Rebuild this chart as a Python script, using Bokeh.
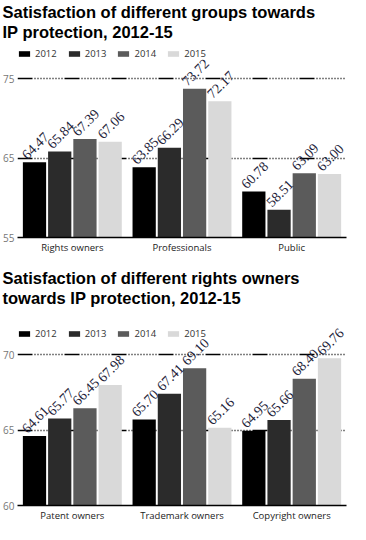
from bokeh.plotting import figure
from bokeh.models import (ColumnDataSource, FactorRange, Range1d, FixedTicker,
                          Legend, LegendItem, LabelSet, Title)
from bokeh.transform import dodge
from bokeh.layouts import column
from bokeh.embed import file_html
from bokeh.resources import INLINE

years = ["2012", "2013", "2014", "2015"]
colors = ["#000000", "#2b2b2b", "#5b5b5b", "#d9d9d9"]

title1 = ["Satisfaction of different groups towards", "IP protection, 2012-15"]
groups1 = ["Rights owners", "Professionals", "Public"]
v1_2012 = [64.47, 63.85, 60.78]
v1_2013 = [65.84, 66.29, 58.51]
v1_2014 = [67.39, 73.72, 63.09]
v1_2015 = [67.06, 72.17, 63.00]
ticks1 = [55, 65, 75]

title2 = ["Satisfaction of different rights owners", "towards IP protection, 2012-15"]
groups2 = ["Patent owners", "Trademark owners", "Copyright owners"]
v2_2012 = [64.61, 65.70, 64.95]
v2_2013 = [65.77, 67.41, 65.66]
v2_2014 = [66.45, 69.10, 68.40]
v2_2015 = [67.98, 65.16, 69.76]
ticks2 = [60, 65, 70]

offsets = [-0.345, -0.115, 0.115, 0.345]
BAR_W = 0.212
TITLE_FONT = "Liberation Sans"
BODY_FONT = "Open Sans"


def make_chart(titles, groups, series, ticks, yrange, height, legend_y):
    p = figure(x_range=FactorRange(*groups), y_range=Range1d(*yrange),
               width=350, height=height, output_backend="svg",
               toolbar_location=None, min_border_left=17, min_border_right=4,
               min_border_top=0, min_border_bottom=0)
    items = []
    for i, (yl, vals) in enumerate(zip(years, series)):
        src = ColumnDataSource(dict(cat=groups, val=vals,
                                    txt=["%.2f" % v for v in vals]))
        r = p.vbar(x=dodge("cat", offsets[i], range=p.x_range), top="val",
                   bottom=yrange[0], width=BAR_W, source=src,
                   fill_color=colors[i], line_color=None)
        items.append(LegendItem(label=yl, renderers=[r]))
        p.add_layout(LabelSet(x=dodge("cat", offsets[i], range=p.x_range), y="val",
                              text="txt", source=src, angle=45, angle_units="deg",
                              x_offset=-7, y_offset=2, text_font_size="14px",
                              text_font=BODY_FONT, text_color="#1e1e3a",
                              text_align="left", text_baseline="bottom"))
    legend = Legend(items=items, orientation="horizontal", location=(0, legend_y),
                    glyph_width=14, glyph_height=7, label_height=10,
                    label_text_font_size="9.5px", label_text_font=BODY_FONT,
                    label_text_color="#333333", label_standoff=4, spacing=10,
                    padding=0, margin=0, border_line_color=None,
                    background_fill_alpha=0)
    p.add_layout(legend)
    for t in reversed(titles):
        p.add_layout(Title(text=t, text_font=TITLE_FONT, text_font_size="16.5px",
                           text_font_style="bold", text_color="#000000",
                           align="left", offset=-15, standoff=0), "above")
    for ax in (p.xaxis[0], p.yaxis[0]):
        ax.axis_label = None
        ax.axis_label_standoff = 0
        ax.major_tick_line_color = None
        ax.minor_tick_line_color = None
        ax.major_tick_out = 0
        ax.major_tick_in = 0
        ax.minor_tick_out = 0
        ax.minor_tick_in = 0
        ax.major_label_text_font = BODY_FONT
    p.yaxis.ticker = FixedTicker(ticks=ticks)
    p.yaxis.axis_line_color = None
    p.yaxis.major_label_standoff = 3
    p.yaxis.major_label_text_font_size = "10px"
    p.yaxis.major_label_text_color = "#777777"
    p.xaxis.axis_line_color = "#000000"
    p.xaxis.axis_line_width = 1.5
    p.xaxis.major_label_standoff = 3
    p.xaxis.major_label_text_font_size = "9.5px"
    p.xaxis.major_label_text_color = "#222222"
    p.xgrid.grid_line_color = None
    p.ygrid.ticker = FixedTicker(ticks=ticks[1:])
    p.ygrid.grid_line_color = "#000000"
    p.ygrid.grid_line_width = 1.5
    p.ygrid.grid_line_dash = "15 2 1 2 1 2 1 2 1 2 1 2 1 2 1 2 1 2 1 2 1 2"
    p.outline_line_color = None
    return p


p1 = make_chart(title1, groups1, [v1_2012, v1_2013, v1_2014, v1_2015], ticks1,
                (55, 79.81), 256, 177)
p2 = make_chart(title2, groups2, [v2_2012, v2_2013, v2_2014, v2_2015], ticks2,
                (60, 73.19), 258, 165)

layout = column(p1, p2, spacing=10)
open("out.html", "w").write(file_html(layout, INLINE))
